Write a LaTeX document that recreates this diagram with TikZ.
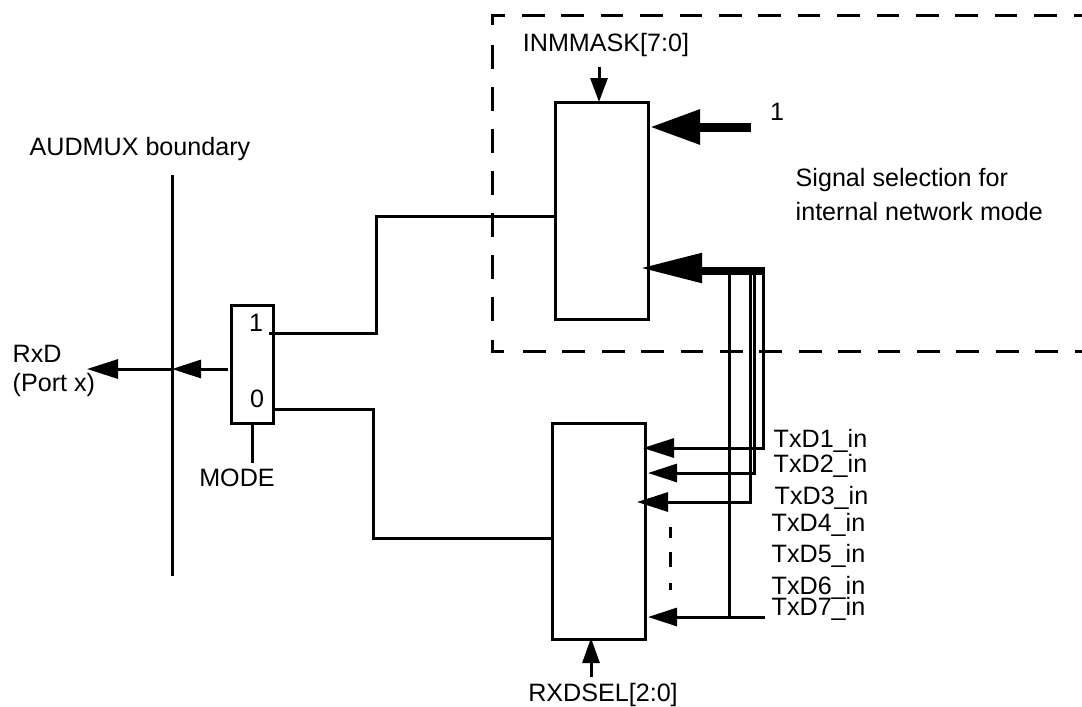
\documentclass[tikz,border=0pt]{standalone}
\usepackage{fontspec}
\setmainfont{Liberation Sans}
\usetikzlibrary{arrows.meta}
\tikzset{
  wire/.style={line width=0.03cm},
  sigarrow/.style={wire,-{Triangle[length=0.31cm,width=0.19cm]}},
  gaparrow/.style={wire,-{Triangle[length=0.29cm,width=0.18cm,sep=0.02cm]}},
  sideband/.style={line width=0.03cm,dash pattern=on 0.227cm off 0.167cm},
  blockbox/.style={draw,line width=0.03cm,inner sep=0pt},
  lbl/.style={inner sep=0pt,font=\fontsize{7.15}{8.4}\selectfont},
}
\begin{document}
\begin{tikzpicture}
\useasboundingbox (0,0) rectangle (10.82,-7.06);
% boxes
\node[blockbox,minimum width=0.93cm,minimum height=2.17cm] (maskbox) at (6.02,-2.105) {};
\node[blockbox,minimum width=0.93cm,minimum height=2.16cm] (selbox) at (5.985,-5.31) {};
\node[blockbox,minimum width=0.42cm,minimum height=1.18cm] (muxbox) at (2.52,-3.64) {};
% signal selection frame
\draw[sideband] (4.925,-0.25) -- (4.925,-0.15) -- (10.82,-0.15);
\draw[line width=0.03cm,dash pattern=on 0.24cm off 0.18cm] (4.925,-0.45) -- (4.925,-3.23);
\draw[wire] (4.925,-3.4) -- (4.925,-3.515) -- (5.04,-3.515);
\draw[sideband] (5.23,-3.515) -- (10.82,-3.515);
% labels
\node[lbl] (boundlbl) at (1.4,-1.49) {AUDMUX boundary};
\node[lbl,anchor=west,align=left] (rxdlbl) at (0.12,-3.71) {RxD\\(Port x)};
\node[lbl] (onelbl) at (2.56,-3.23) {1};
\node[lbl] (zerolbl) at (2.57,-3.99) {0};
\node[lbl] (modelbl) at (2.37,-4.78) {MODE};
\node[lbl] (masklbl) at (6.06,-0.45) {INMMASK[7:0]};
\node[lbl] (constlbl) at (7.77,-1.12) {1};
\node[lbl,anchor=west] (siglbl) at (7.95,-1.8) {Signal selection for};
\node[lbl,anchor=west] (netlbl) at (7.95,-2.12) {internal network mode};
\node[lbl] (sellbl) at (6.03,-6.95) {RXDSEL[2:0]};
\node[lbl,anchor=west] (txa) at (7.73,-4.41) {TxD1\_in};
\node[lbl,anchor=west] (txb) at (7.73,-4.66) {TxD2\_in};
\node[lbl,anchor=west] (txc) at (7.74,-4.98) {TxD3\_in};
\node[lbl,anchor=west] (txd) at (7.71,-5.25) {TxD4\_in};
\node[lbl,anchor=west] (txe) at (7.71,-5.56) {TxD5\_in};
\node[lbl,anchor=west] (txf) at (7.71,-5.88) {TxD6\_in};
\node[lbl,anchor=west] (txg) at (7.71,-6.09) {TxD7\_in};
% mux side
\coordinate (topb) at (1.725,-1.75);
\coordinate (botb) at (1.725,-5.76);
\draw[wire] (topb) -- (botb);
\coordinate (rxdend) at (0.87,-3.69);
\coordinate (rxdb) at (1.725,-3.69);
\coordinate (rxdtip) at (1.70,-3.69);
\coordinate (muxout) at (2.28,-3.69);
\draw[sigarrow] (rxdb) -- (rxdend);
\draw[gaparrow] (muxout) -- (rxdtip);
\draw[wire] (2.52,-4.23) -- (2.52,-4.63);
\coordinate (upin) at (5.56,-2.16);
\coordinate (lowin) at (5.52,-5.38);
\draw[wire] (2.69,-3.33) -- (3.76,-3.33) -- (3.76,-2.16) -- (upin);
\draw[wire] (2.73,-4.09) -- (3.73,-4.09) -- (3.73,-5.38) -- (lowin);
% controls
\coordinate (masktop) at (5.99,-0.67);
\draw[wire,-{Triangle[length=0.24cm,width=0.17cm]}] (masktop) -- (5.99,-1.02);
\coordinate (selend) at (5.91,-6.77);
\draw[wire,-{Triangle[length=0.25cm,width=0.17cm]}] (selend) -- (5.91,-6.38);
% buses
\draw[line width=0.09cm,-{Triangle[length=0.5cm,width=0.33cm]}] (7.51,-1.27) -- (6.5,-1.27);
\draw[line width=0.08cm] (7.65,-2.71) -- (7.0,-2.71);
\draw[line width=0.02cm,-{Triangle[length=0.6cm,width=0.3cm]}] (7.03,-2.68) -- (6.42,-2.68);
% inputs
\draw[sigarrow] (7.63,-2.71) -- (7.63,-4.48) -- (6.43,-4.48);
\draw[gaparrow] (7.545,-2.71) -- (7.545,-4.73) -- (6.46,-4.73);
\draw[sigarrow] (7.5,-2.71) -- (7.5,-5.02) -- (6.37,-5.02);
\draw[wire] (7.29,-2.71) -- (7.29,-6.17);
\draw[gaparrow] (7.65,-6.17) -- (6.46,-6.17);
\draw[wire,dash pattern=on 0.11cm off 0.14cm on 0.15cm off 0.16cm on 0.07cm] (6.7,-5.27) -- (6.7,-5.9);
\end{tikzpicture}
\end{document}
